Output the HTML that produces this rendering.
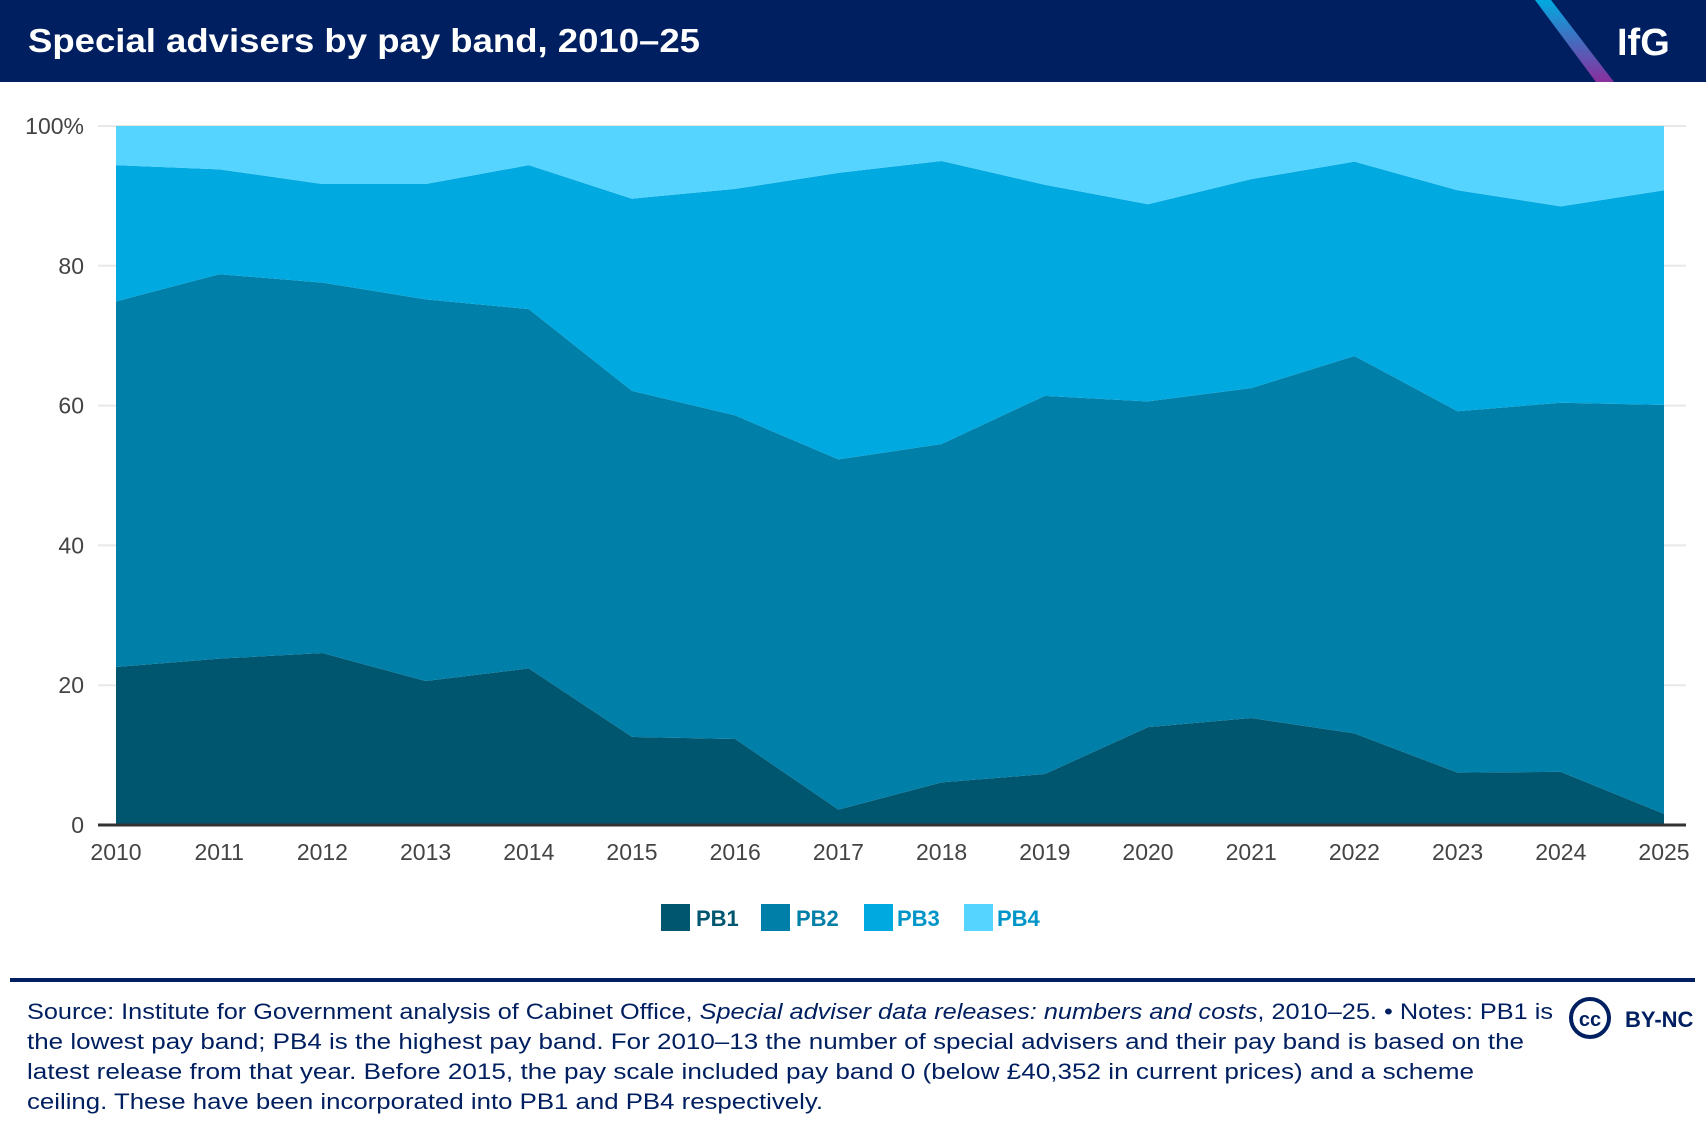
<!DOCTYPE html>
<html><head><meta charset="utf-8"><style>
html,body{margin:0;padding:0;background:#fff;}
svg{display:block;font-family:"Liberation Sans",sans-serif;}
</style></head><body>
<svg id="chart" width="1706" height="1132" viewBox="0 0 1706 1132">
<rect x="0" y="0" width="1706" height="82" fill="#001f60"/>
<text x="28" y="52" font-size="33" font-weight="bold" fill="#fff" textLength="672" lengthAdjust="spacingAndGlyphs">Special advisers by pay band, 2010–25</text>
<defs><linearGradient id="lg" x1="0" y1="0" x2="0" y2="1"><stop offset="0" stop-color="#00a9e0"/><stop offset="1" stop-color="#8a2f9e"/></linearGradient></defs>
<polygon points="1535,0 1551,0 1614,82 1596,82" fill="url(#lg)"/>
<text x="1617" y="55" font-size="38" font-weight="bold" fill="#fff">IfG</text>
<g id="grid"></g>
<g id="areas"></g>
<g id="axes"></g>
<g>
<rect x="661" y="904" width="29" height="27" fill="#00566f"/>
<text x="696" y="926" font-size="22" font-weight="bold" fill="#00566f">PB1</text>
<rect x="761" y="904" width="29" height="27" fill="#007fa8"/>
<text x="796" y="926" font-size="22" font-weight="bold" fill="#007fa8">PB2</text>
<rect x="864" y="904" width="29" height="27" fill="#00a9e0"/>
<text x="897" y="926" font-size="22" font-weight="bold" fill="#0095c8">PB3</text>
<rect x="964" y="904" width="29" height="27" fill="#55d4ff"/>
<text x="997" y="926" font-size="22" font-weight="bold" fill="#0095c8">PB4</text>
</g>
<rect x="10" y="978" width="1685" height="4" fill="#001f60"/>
<g font-size="22" fill="#001f60">
<text x="27" y="1019" textLength="1526" lengthAdjust="spacingAndGlyphs">Source: Institute for Government analysis of Cabinet Office, <tspan font-style="italic">Special adviser data releases: numbers and costs</tspan>, 2010–25. • Notes: PB1 is</text>
<text x="27" y="1049" textLength="1497" lengthAdjust="spacingAndGlyphs">the lowest pay band; PB4 is the highest pay band. For 2010–13 the number of special advisers and their pay band is based on the</text>
<text x="27" y="1079" textLength="1447" lengthAdjust="spacingAndGlyphs">latest release from that year. Before 2015, the pay scale included pay band 0 (below £40,352 in current prices) and a scheme</text>
<text x="27" y="1109" textLength="796" lengthAdjust="spacingAndGlyphs">ceiling. These have been incorporated into PB1 and PB4 respectively.</text>
</g>
<g>
<circle cx="1590" cy="1018" r="19" fill="none" stroke="#001f60" stroke-width="4"/>
<text x="1590" y="1026" font-size="20" font-weight="bold" fill="#001f60" text-anchor="middle">cc</text>
<text x="1625" y="1027" font-size="22" font-weight="bold" fill="#001f60">BY-NC</text>
</g>
</svg>
<script>
const years=[2010,2011,2012,2013,2014,2015,2016,2017,2018,2019,2020,2021,2022,2023,2024,2025];
const pb1=[22.6,23.8,24.6,20.6,22.4,12.6,12.3,2.2,6.1,7.3,14.0,15.3,13.1,7.5,7.6,1.6];
const pb2=[52.3,55.0,53.0,54.6,51.4,49.5,46.3,50.1,48.4,54.1,46.6,47.2,54.0,51.7,52.8,58.5];
const pb3=[19.5,15.0,14.1,16.5,20.6,27.5,32.4,41.0,40.5,30.2,28.2,29.9,27.8,31.6,28.1,30.7];
const pb4=[5.6,6.2,8.3,8.3,5.6,10.4,9.0,6.7,5.0,8.4,11.2,7.6,5.1,9.2,11.5,9.2];
const yTicks=[0,20,40,60,80,100];
const yTickLabels=["0","20","40","60","80","100%"];
const NS="http://www.w3.org/2000/svg";
const X0=116,X1=1664,Y0=825,Y1=126;
function xs(i){return X0+(X1-X0)*(years[i]-years[0])/(years[years.length-1]-years[0]);}
function ys(v){return Y0-(Y0-Y1)*v/100;}
function mk(tag,attrs,parent){const e=document.createElementNS(NS,tag);for(const k in attrs)e.setAttribute(k,attrs[k]);parent.appendChild(e);return e;}
const grid=document.getElementById('grid'),areas=document.getElementById('areas'),axes=document.getElementById('axes');
yTicks.forEach((t,i)=>{
  if(t>0){const l=mk('line',{x1:98,x2:1686,y1:ys(t),y2:ys(t),stroke:'#e8e8e8','stroke-width':2},grid);
  
  }
  const tx=mk('text',{x:84,y:ys(t)+8,'font-size':23,fill:'#444','text-anchor':'end'},axes);
  tx.textContent=yTickLabels[i];
  
  
});
const series=[pb1,pb2,pb3,pb4],colors=['#00566f','#007fa8','#00a9e0','#55d4ff'],names=['pb1','pb2','pb3','pb4'];
const base=years.map(()=>0);
series.forEach((s,k)=>{
  const top=base.map((b,i)=>b+s[i]);
  let d='M'+years.map((y,i)=>xs(i)+','+ys(top[i])).join('L');
  for(let i=years.length-1;i>=0;i--)d+='L'+xs(i)+','+ys(base[i]);
  d+='Z';
  const p=mk('path',{d:d,fill:colors[k]},areas);
  
  
  top.forEach((v,i)=>base[i]=v);
});
const ax=mk('line',{x1:98,x2:1686,y1:Y0,y2:Y0,stroke:'#333','stroke-width':3},axes);


years.forEach((y,i)=>{
  const t=mk('text',{x:xs(i),y:860,'font-size':23,fill:'#444','text-anchor':'middle'},axes);
  t.textContent=y;
  
  
});
</script>
</body></html>
